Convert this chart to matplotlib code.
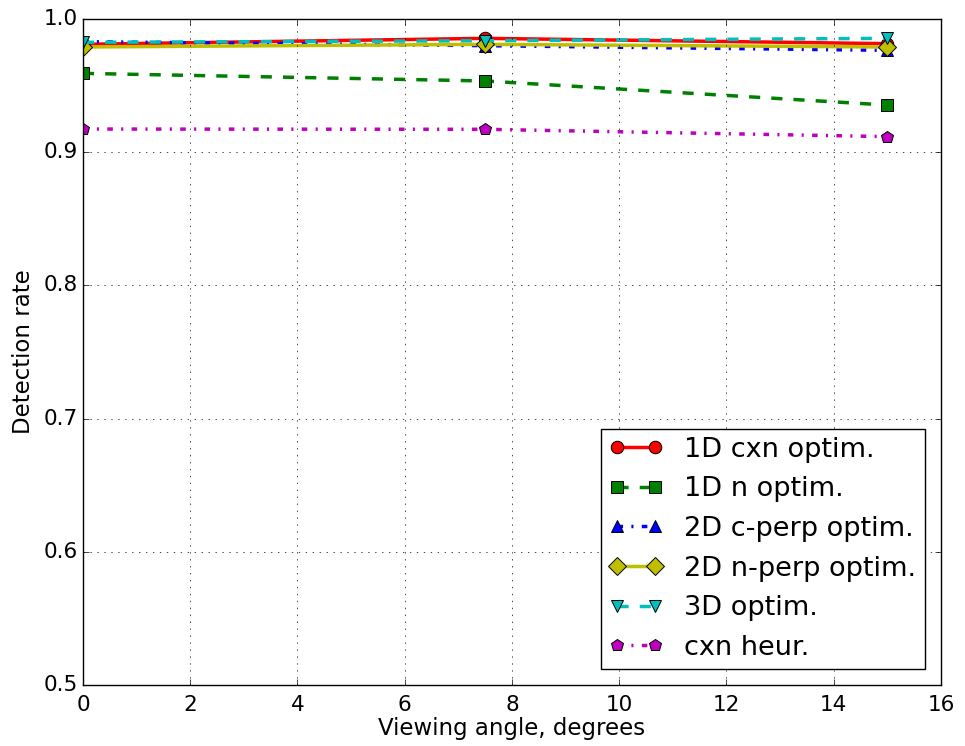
import matplotlib
matplotlib.use("Agg")
import matplotlib.pyplot as plt

plt.style.use("classic")

angles = [0, 7.5, 15]
cxn_1d = [0.981, 0.9855, 0.9815]
n_1d = [0.9592, 0.9535, 0.9354]
cperp_2d = [0.983, 0.980, 0.9765]
nperp_2d = [0.979, 0.981, 0.979]
opt_3d = [0.9825, 0.9837, 0.9855]
cxn_heur = [0.9174, 0.9172, 0.9117]

labels = ["1D cxn optim.", "1D n optim.", "2D c-perp optim.",
          "2D n-perp optim.", "3D optim.", "cxn heur."]

fig = plt.figure(figsize=(9.65, 7.46), dpi=100, facecolor="white")
ax = fig.add_axes([0.086, 0.0818, 0.889, 0.8927])

kw = dict(lw=2.5, ms=9, mew=0.7)
ax.plot(angles, cxn_1d, "r-o", label=labels[0], **kw)
ax.plot(angles, n_1d, "g--s", label=labels[1], dashes=(8, 8), **kw)
ax.plot(angles, cperp_2d, "b-.^", label=labels[2], dashes=(4, 6, 1.5, 6), **kw)
ax.plot(angles, nperp_2d, "y-D", label=labels[3], **kw)
ax.plot(angles, opt_3d, "c--v", label=labels[4], dashes=(8, 8), **kw)
ax.plot(angles, cxn_heur, "m-.p", label=labels[5], dashes=(4, 6, 1.5, 6), **kw)

ax.set_xlim(0, 16)
ax.set_ylim(0.5, 1.0)
ax.set_xticks(range(0, 17, 2))
ax.set_yticks([0.5, 0.6, 0.7, 0.8, 0.9, 1.0])
ax.tick_params(axis="x", labelsize=15.5, pad=7)
ax.tick_params(axis="y", labelsize=15.5, pad=4)
ax.grid(True, color="black", linestyle=(0, (1, 4)))
ax.set_xlabel("Viewing angle, degrees", fontsize=16.5, labelpad=2)
ax.set_ylabel("Detection rate", fontsize=16.5, labelpad=6)
ax.legend(loc="lower right", fontsize=19.5, numpoints=2, borderaxespad=0.6,
          borderpad=0.3)

fig.savefig("out.png", dpi=100, facecolor="white")
